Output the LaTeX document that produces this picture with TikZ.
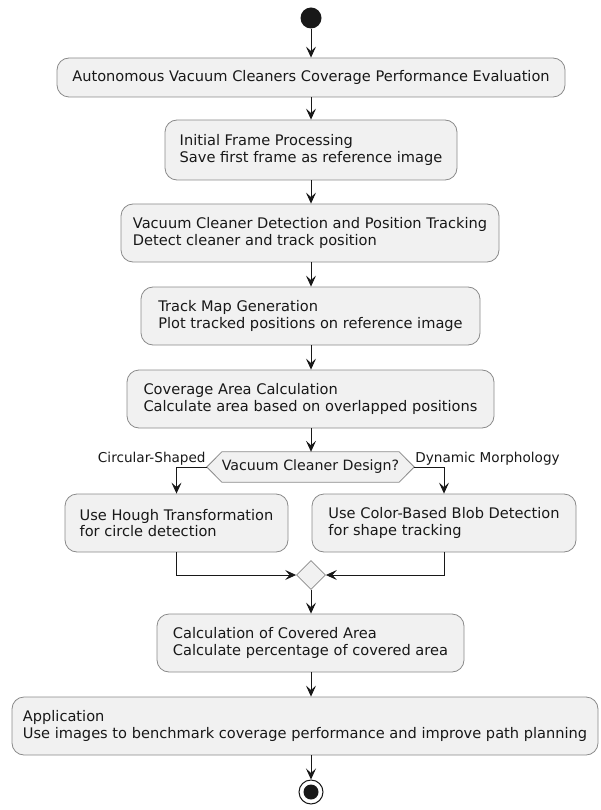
\documentclass[tikz,border=0pt]{standalone}
\usepackage{fontspec}
\setmainfont{DejaVu Sans}
\usetikzlibrary{arrows.meta,shapes.geometric,positioning}
\definecolor{boxfill}{HTML}{F1F1F1}
\definecolor{boxline}{HTML}{8A8A8A}
\definecolor{ink}{HTML}{181818}
\tikzset{
  act/.style={draw=boxline, fill=boxfill, rounded corners=12pt, line width=0.8pt,
    align=left, inner xsep=0pt, inner ysep=0pt, font=\fontsize{14.6}{16.8}\selectfont, text=ink},
  flow/.style={draw=ink, line width=0.9pt, -{Stealth[length=11pt,width=10pt,inset=4.5pt]}},
  lbl/.style={font=\fontsize{13.6}{15}\selectfont, text=ink, inner sep=1pt}
}
\begin{document}
\begin{tikzpicture}[x=1pt,y=-1pt]
\useasboundingbox (0,0) rectangle (600,810);
\node[circle, fill=ink, minimum size=21pt, inner sep=0pt] (start) at (311,18) {};
\node[act, minimum width=508pt, minimum height=39pt, align=center] (b1) at (311,77.5) {Autonomous Vacuum Cleaners Coverage Performance Evaluation};
\node[act, minimum width=292pt, minimum height=60pt] (b2) at (311,150) {Initial Frame Processing\\Save first frame as reference image};
\node[act, minimum width=378pt, minimum height=58pt] (b3) at (310,233) {Vacuum Cleaner Detection and Position Tracking\\Detect cleaner and track position};
\node[act, minimum width=339pt, minimum height=58pt] (b4) at (310.5,316) {Track Map Generation\\Plot tracked positions on reference image};
\node[act, minimum width=367pt, minimum height=58pt] (b5) at (310.5,399) {Coverage Area Calculation\\Calculate area based on overlapped positions};
% decision hexagon
\node[minimum width=207pt, minimum height=30pt, inner sep=0pt] (dec) at (310.5,467) {};
\draw[draw=boxline, fill=boxfill, line width=0.8pt] (dec.west) -- ([xshift=15pt]dec.north west) -- ([xshift=-15pt]dec.north east) -- (dec.east) -- ([xshift=-15pt]dec.south east) -- ([xshift=15pt]dec.south west) -- cycle;
\node[font=\fontsize{14.2}{16}\selectfont, text=ink] (dectext) at (dec) {Vacuum Cleaner Design?};
\node[lbl, anchor=south east] (lc) at ([yshift=0pt]dec.west) {Circular-Shaped};
\node[lbl, anchor=south west] (ld) at ([yshift=0pt]dec.east) {Dynamic Morphology};
\node[act, minimum width=223pt, minimum height=58pt] (b6) at (176.5,523) {Use Hough Transformation\\for circle detection};
\node[act, minimum width=264pt, minimum height=58pt] (b7) at (444,523) {Use Color-Based Blob Detection\\for shape tracking};
\node[diamond, draw=boxline, fill=boxfill, line width=0.8pt, minimum size=29pt, inner sep=0pt] (m) at (311,575) {};
\node[act, minimum width=307pt, minimum height=58pt] (b8) at (310.5,643) {Calculation of Covered Area\\Calculate percentage of covered area};
\node[act, minimum width=586pt, minimum height=58pt] (b9) at (305,726) {Application\\Use images to benchmark coverage performance and improve path planning};
\node[circle, draw=ink, line width=1pt, fill=white, minimum size=24pt, inner sep=0pt] (end) at (311,792) {};
\node[circle, fill=ink, minimum size=15pt, inner sep=0pt] (endin) at (end) {};
% connectors
\draw[flow] (start) -- (b1);
\draw[flow] (b1) -- (b2);
\draw[flow] (b2) -- (b3.north -| b2.south);
\draw[flow] (b3.south -| b2.south) -- (b4.north -| b2.south);
\draw[flow] (b4.south -| b2.south) -- (b5.north -| b2.south);
\draw[flow] (b5.south -| b2.south) -- (dec.north -| b2.south);
\draw[flow] (dec.west) -| (b6.north);
\draw[flow] (dec.east) -| (b7.north);
\draw[flow] (b6.south) |- (m.west);
\draw[flow] (b7.south) |- (m.east);
\draw[flow] (m.south) -- (b8.north -| m.south);
\draw[flow] (b8.south -| m.south) -- (b9.north -| m.south);
\draw[flow] (b9.south -| m.south) -- (end.north);
\end{tikzpicture}
\end{document}
